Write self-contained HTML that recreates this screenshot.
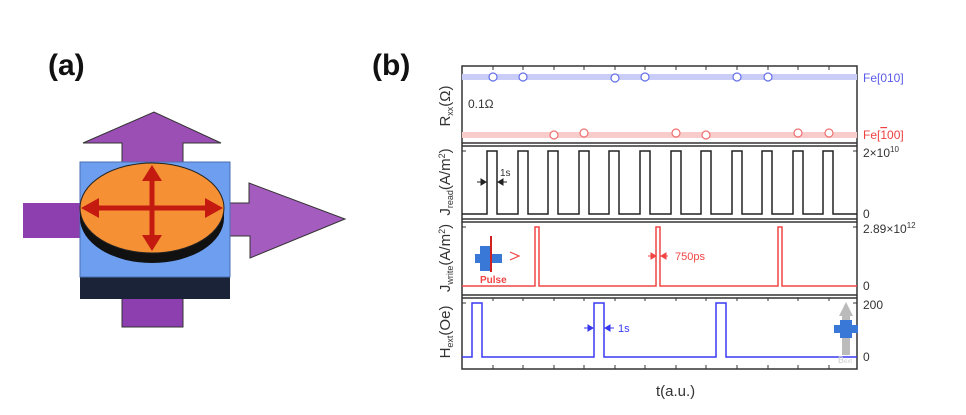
<!DOCTYPE html>
<html><head><style>
html,body{margin:0;padding:0;background:#fff;}
svg{display:block;font-family:"Liberation Sans",sans-serif;}
</style></head><body>
<svg width="966" height="415" viewBox="0 0 966 415" xmlns="http://www.w3.org/2000/svg">
<text x="48" y="75" font-size="30" font-weight="bold" fill="#111">(a)</text>
<text x="372" y="75" font-size="30" font-weight="bold" fill="#111">(b)</text>
<!-- panel a -->
<polygon points="83,143 154,112 221,143 183,143 183,163 122,163 122,143" fill="#9b4fb5" stroke="#333" stroke-width="1"/>
<rect x="23" y="203" width="60" height="35" fill="#8d3fb0"/>
<rect x="122" y="298" width="61" height="29" fill="#8d3fb0" stroke="#333" stroke-width="1"/>
<polygon points="227,203 249,203 249,183 345,219 250,258 250,236 227,236" fill="#a55cbf" stroke="#333" stroke-width="1"/>
<rect x="80" y="277" width="150" height="22" fill="#1b2338"/>
<rect x="80" y="162" width="150" height="115" fill="#6d9ef0" stroke="#4a6fb0" stroke-width="1"/>
<ellipse cx="152" cy="218" rx="72" ry="45" fill="#111"/>
<rect x="80" y="208" width="144" height="10" fill="#111"/>
<ellipse cx="152" cy="208" rx="72" ry="45" fill="#f59035" stroke="#222" stroke-width="1"/>
<g stroke="#c41a10" stroke-width="5" fill="#c41a10">
<line x1="97" y1="208" x2="207" y2="208"/><line x1="152" y1="178" x2="152" y2="238"/>
</g>
<g fill="#c41a10">
<polygon points="81,208 99,198 99,218"/><polygon points="223,208 205,198 205,218"/>
<polygon points="152,165 142,181 162,181"/><polygon points="152,251 142,235 162,235"/>
</g>
<!-- panel b frame -->
<g stroke="#333" stroke-width="1.5" fill="none">
<rect x="462" y="66" width="395" height="303"/>
<line x1="462" y1="143" x2="857" y2="143"/><line x1="462" y1="146" x2="857" y2="146"/>
<line x1="462" y1="219" x2="857" y2="219"/><line x1="462" y1="222" x2="857" y2="222"/>
<line x1="462" y1="295" x2="857" y2="295"/><line x1="462" y1="298" x2="857" y2="298"/>
</g>
<g stroke="#333" stroke-width="1">
<path d="M493,66v4M523,66v4M554,66v4M584,66v4M615,66v4M645,66v4M676,66v4M706,66v4M737,66v4M768,66v4M798,66v4M829,66v4"/>
<path d="M493,369v-4M523,369v-4M554,369v-4M584,369v-4M615,369v-4M645,369v-4M676,369v-4M706,369v-4M737,369v-4M768,369v-4M798,369v-4M829,369v-4"/>
<path d="M493,298v3M523,298v3M554,298v3M584,298v3M615,298v3M645,298v3M676,298v3M706,298v3M737,298v3M768,298v3M798,298v3M829,298v3"/>
<path d="M857,77h-4M857,135h-4M857,151h-4M857,214h-4M857,227h-4M857,286h-4M857,303h-4M857,357h-4M462,77h4M462,135h4M462,151h4M462,214h4M462,227h4M462,286h4M462,303h4M462,357h4"/>
</g>
<!-- row1 -->
<rect x="462" y="74" width="395" height="6" fill="#c9cdf7"/>
<rect x="462" y="132" width="395" height="6" fill="#f9cccc"/>
<g fill="#fff" stroke="#6470e8" stroke-width="1.2">
<circle cx="493" cy="77" r="4"/><circle cx="523" cy="77" r="4"/><circle cx="615" cy="78" r="4"/><circle cx="645" cy="77" r="4"/><circle cx="737" cy="77" r="4"/><circle cx="768" cy="77" r="4"/>
</g>
<g fill="#fff" stroke="#ee7070" stroke-width="1.2">
<circle cx="554" cy="135" r="4"/><circle cx="584" cy="133" r="4"/><circle cx="676" cy="133" r="4"/><circle cx="706" cy="135" r="4"/><circle cx="798" cy="133" r="4"/><circle cx="829" cy="133" r="4"/>
</g>
<text x="468" y="108" font-size="12" fill="#333">0.1Ω</text>
<!-- row2 -->
<path d="M462,214 H487 V151 H497 V214 H518 V151 H528 V214 H548 V151 H558 V214 H579 V151 H589 V214 H609 V151 H619 V214 H640 V151 H650 V214 H671 V151 H681 V214 H701 V151 H711 V214 H732 V151 H742 V214 H762 V151 H772 V214 H793 V151 H803 V214 H823 V151 H833 V214 H857" fill="none" stroke="#222" stroke-width="1.5"/>
<g stroke="#222" stroke-width="1" fill="#222">
<line x1="477" y1="182" x2="486" y2="182"/><polygon points="486,182 481,179 481,185"/>
<line x1="498" y1="182" x2="507" y2="182"/><polygon points="498,182 503,179 503,185"/>
</g>
<text x="500" y="176" font-size="10" fill="#333">1s</text>
<!-- row3 -->
<path d="M462,286 H535 V227 H539 V286 H656 V227 H660 V286 H778 V227 H782 V286 H857" fill="none" stroke="#f04545" stroke-width="1.5"/>
<g stroke="#f04545" fill="#f04545">
<line x1="648" y1="256" x2="656" y2="256"/><polygon points="656,256 651,253 651,259"/>
<line x1="661" y1="256" x2="668" y2="256"/><polygon points="661,256 666,253 666,259"/>
</g>
<text x="675" y="260" font-size="11" fill="#f04545">750ps</text>
<rect x="480" y="246" width="10" height="25" fill="#3a78d8"/><rect x="480" y="254" width="22" height="9" fill="#3a78d8"/><rect x="475" y="254" width="8" height="9" fill="#3a78d8"/>
<line x1="491" y1="236" x2="491" y2="272" stroke="#d02020" stroke-width="2"/>
<path d="M510,252 L519,256 L510,260" fill="none" stroke="#f04545" stroke-width="1.2"/>
<text x="480" y="283" font-size="10" fill="#f04545" font-weight="bold">Pulse</text>
<!-- row4 -->
<path d="M462,357 H472 V303 H482 V357 H594 V303 H604 V357 H716 V303 H726 V357 H857" fill="none" stroke="#3838f0" stroke-width="1.5"/>
<g stroke="#3838f0" fill="#3838f0">
<line x1="584" y1="328" x2="593" y2="328"/><polygon points="593,328 588,325 588,331"/>
<line x1="605" y1="328" x2="614" y2="328"/><polygon points="605,328 610,325 610,331"/>
</g>
<text x="618" y="332" font-size="11" fill="#3838f0">1s</text>
<polygon points="839,316 846,302 853,316 850,316 850,355 842,355 842,316" fill="#bbb"/>
<rect x="840" y="320" width="12" height="18" fill="#3a78d8"/><rect x="834" y="325" width="24" height="8" fill="#3a78d8"/>
<text x="838" y="363" font-size="9" fill="#ccc">B<tspan font-size="6">ext</tspan></text>
<!-- right labels -->
<g font-size="12" fill="#333">
<text x="863" y="82" fill="#5a5ae8">Fe[010]</text>
<text x="863" y="139" fill="#ee4040">Fe[<tspan text-decoration="overline">1</tspan>00]</text>
<text x="863" y="157">2×10<tspan font-size="8" dy="-5">10</tspan></text>
<text x="863" y="218">0</text>
<text x="863" y="233">2.89×10<tspan font-size="8" dy="-5">12</tspan></text>
<text x="863" y="290">0</text>
<text x="863" y="309">200</text>
<text x="863" y="361">0</text>
</g>
<!-- y labels -->
<g font-size="15" fill="#333" text-anchor="middle">
<text transform="translate(450,106) rotate(-90)">R<tspan font-size="9" dy="3">xx</tspan><tspan dy="-3">(Ω)</tspan></text>
<text transform="translate(450,182) rotate(-90)">J<tspan font-size="9" dy="3">read</tspan><tspan dy="-3">(A/m</tspan><tspan font-size="9" dy="-5">2</tspan><tspan dy="5">)</tspan></text>
<text transform="translate(450,258) rotate(-90)">J<tspan font-size="9" dy="3">write</tspan><tspan dy="-3">(A/m</tspan><tspan font-size="9" dy="-5">2</tspan><tspan dy="5">)</tspan></text>
<text transform="translate(450,332) rotate(-90)">H<tspan font-size="9" dy="3">ext</tspan><tspan dy="-3">(Oe)</tspan></text>
</g>
<text x="656" y="396" font-size="15" fill="#333">t(a.u.)</text>
</svg>
</body></html>
